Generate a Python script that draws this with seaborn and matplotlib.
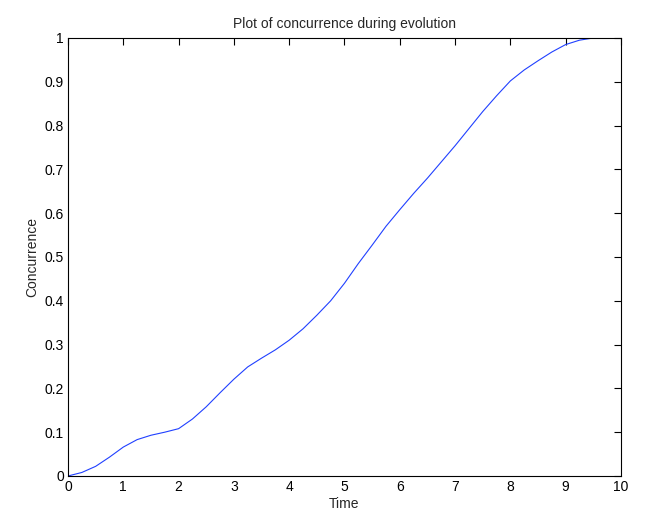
import matplotlib
matplotlib.use("Agg")
import matplotlib.pyplot as plt
import seaborn as sns
import pandas as pd

time = [0, 0.25, 0.5, 0.75, 1, 1.25, 1.5, 1.75, 2, 2.25, 2.5, 2.75, 3, 3.25, 3.5,
        3.75, 4, 4.25, 4.5, 4.75, 5, 5.25, 5.5, 5.75, 6, 6.25, 6.5, 6.75, 7, 7.25,
        7.5, 7.75, 8, 8.25, 8.5, 8.75, 9, 9.25, 9.5, 9.75, 10]
concurrence = [0, 0.008, 0.022, 0.043, 0.066, 0.083, 0.093, 0.100, 0.108, 0.130, 0.158,
               0.190, 0.221, 0.249, 0.269, 0.288, 0.310, 0.336, 0.367, 0.400, 0.440,
               0.485, 0.527, 0.570, 0.608, 0.645, 0.680, 0.717, 0.754, 0.793, 0.832,
               0.868, 0.902, 0.927, 0.948, 0.968, 0.985, 0.995, 1.0, 1.0, 1.0]
xticks = [0, 1, 2, 3, 4, 5, 6, 7, 8, 9, 10]
yticks = [0, 0.1, 0.2, 0.3, 0.4, 0.5, 0.6, 0.7, 0.8, 0.9, 1]
ytick_labels = ["0", "0.1", "0.2", "0.3", "0.4", "0.5", "0.6", "0.7", "0.8", "0.9", "1"]

sns.set_style("white")
plt.rcParams['font.family'] = ['Liberation Sans', 'DejaVu Sans']

df = pd.DataFrame({"Time": time, "Concurrence": concurrence})

fig = plt.figure(figsize=(6.64, 5.32), dpi=100)
ax = fig.add_axes([0.1024, 0.1053, 0.8328, 0.8233])
sns.lineplot(data=df, x="Time", y="Concurrence", ax=ax, color="#2040ff", linewidth=0.8)

ax.set_xlim(0, 10)
ax.set_ylim(0, 1)
ax.set_xticks(xticks)
ax.set_xticklabels([str(x) for x in xticks])
ax.set_yticks(yticks)
ax.set_yticklabels(ytick_labels)
ax.tick_params(direction="in", length=5, width=0.8, top=True, right=True,
               labelsize=10, colors="black", pad=3)
for s in ax.spines.values():
    s.set_color("black")
    s.set_linewidth(0.8)
    s.set_visible(True)
ax.set_xlabel("Time", fontsize=10, labelpad=2)
ax.set_ylabel("Concurrence", fontsize=10, labelpad=4)
ax.set_title("Plot of concurrence during evolution", fontsize=10, pad=7)

fig.savefig("out.png", dpi=100)
